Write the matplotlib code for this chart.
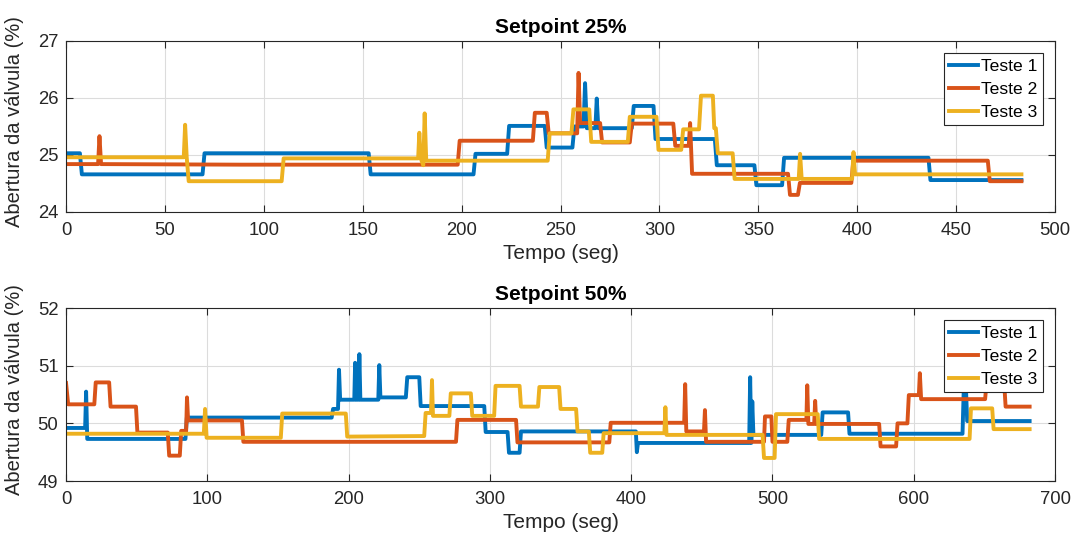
import matplotlib
matplotlib.use("Agg")
import matplotlib.pyplot as plt

# --- dados (tempo em s, abertura em %) ---
# Setpoint 25%
t1_25 = [0, 7, 8, 69, 70, 153, 154, 206, 207, 223, 224, 242, 243, 256, 257,
         261.6, 262.4, 263.3, 267.6, 268.3, 269.1, 286, 287, 297, 298, 328,
         329, 348, 349, 362, 363, 436, 437, 483]
v1_25 = [25.03, 25.03, 24.66, 24.66, 25.03, 25.03, 24.66, 24.66, 25.02, 25.02,
         25.51, 25.51, 25.13, 25.13, 25.5, 25.5, 26.26, 25.47, 25.47, 25.99,
         25.47, 25.47, 25.86, 25.86, 25.28, 25.28, 24.82, 24.82, 24.47, 24.47,
         24.95, 24.95, 24.56, 24.56]

t2_25 = [0, 16.2, 16.9, 17.7, 88, 198, 199, 236, 237, 243, 244, 258.4, 259.1,
         259.9, 270, 271, 285, 286, 307, 308, 314.8, 315.5, 316.5, 365, 366,
         370, 371, 397, 398, 466, 467, 483]
v2_25 = [24.84, 24.84, 25.33, 24.84, 24.83, 24.83, 25.25, 25.25, 25.74, 25.74,
         25.38, 25.38, 26.44, 25.56, 25.56, 25.22, 25.22, 25.55, 25.55, 25.16,
         25.16, 25.56, 24.67, 24.67, 24.3, 24.3, 24.51, 24.51, 24.9, 24.9,
         24.54, 24.54]

t3_25 = [0, 59.5, 60.2, 61, 62, 109, 110, 178, 178.6, 179.3, 180.6, 181.3,
         182.1, 243.5, 244.5, 255.5, 256.5, 264.5, 265.5, 284, 285, 298.5,
         299.5, 311, 312, 320, 321, 327, 327.7, 328.5, 329.5, 337, 338, 370.4,
         371.1, 371.9, 397.4, 398.1, 398.9, 483]
v3_25 = [24.96, 24.96, 25.53, 24.96, 24.54, 24.54, 24.94, 24.94, 25.39, 24.94,
         24.82, 25.73, 24.9, 24.9, 25.38, 25.38, 25.8, 25.8, 25.23, 25.23,
         25.67, 25.67, 25.09, 25.09, 25.45, 25.45, 26.04, 26.04, 25.47, 25.47,
         25.03, 25.03, 24.58, 24.58, 25.02, 24.58, 24.58, 25.05, 24.66, 24.66]

# Setpoint 50%
t1_50 = [0, 13.5, 14.2, 15, 84.5, 85.5, 188, 189, 192.5, 193.2, 194, 204,
         204.6, 205.3, 207, 207.6, 208.3, 221, 221.7, 222.5, 240.5, 241.5, 250,
         251, 296, 297, 312.5, 313.5, 321, 322, 403.3, 404, 404.8, 483.5, 484.2,
         485, 485.7, 486.5, 534.5, 535.5, 553.5, 554.5, 634.5, 635.5, 636.8,
         637.8, 682]
v1_50 = [49.92, 49.92, 50.55, 49.73, 49.73, 50.1, 50.1, 50.25, 50.25, 50.93,
         50.41, 50.41, 51.05, 50.41, 50.41, 51.2, 50.41, 50.41, 51.01, 50.45,
         50.45, 50.8, 50.8, 50.3, 50.3, 49.85, 49.85, 49.49, 49.49, 49.86, 49.86,
         49.5, 49.66, 49.66, 50.8, 49.66, 50.38, 49.8, 49.8, 50.19, 50.19, 49.82,
         49.82, 50.7, 50.7, 50.04, 50.04]

t2_50 = [0, 1.5, 20, 21, 30.5, 31.5, 49.5, 50.5, 72, 73, 80.5, 81.5, 85, 85.6,
         86.4, 124.5, 125.5, 276, 277, 318.5, 319.5, 384.5, 385.5, 437.5, 438.2,
         439, 451.5, 452.2, 453, 494, 494.7, 499.2, 500, 510.5, 511.5, 524,
         524.6, 525.4, 529.5, 530.2, 531, 575.5, 576.5, 587.5, 588.5, 595.5,
         596.5, 603.6, 604.3, 605.2, 650.5, 651.5, 664, 665, 682]
v2_50 = [50.7, 50.33, 50.33, 50.71, 50.71, 50.29, 50.29, 49.84, 49.84, 49.44,
         49.44, 49.87, 49.87, 50.45, 50.05, 50.05, 49.68, 49.68, 50.06, 50.06,
         49.67, 49.67, 50.01, 50.01, 50.68, 49.86, 49.86, 50.23, 49.68, 49.68,
         50.12, 50.12, 49.68, 49.68, 50.06, 50.06, 50.66, 49.99, 49.99, 50.39,
         49.99, 49.99, 49.6, 49.6, 50.0, 50.0, 50.49, 50.49, 50.87, 50.42,
         50.42, 50.7, 50.7, 50.29, 50.29]

t3_50 = [0, 97.5, 98.4, 99.5, 152, 153, 198, 199, 253.5, 254.5, 258.3, 259,
         259.7, 271.3, 272.3, 286.5, 287.5, 303, 304, 321, 322, 334, 335, 349,
         350, 361, 362, 370, 371, 379.5, 380.5, 423.5, 424.2, 425, 493, 494,
         501.5, 502.5, 532, 533, 639.5, 640.5, 655.5, 656.5, 682]
v3_50 = [49.82, 49.82, 50.25, 49.75, 49.75, 50.17, 50.17, 49.77, 49.78, 50.18,
         50.18, 50.75, 50.13, 50.13, 50.52, 50.52, 50.13, 50.13, 50.65, 50.65,
         50.29, 50.29, 50.63, 50.63, 50.25, 50.25, 49.86, 49.86, 49.49, 49.49,
         49.83, 49.83, 50.28, 49.8, 49.8, 49.4, 49.4, 50.16, 50.16, 49.73, 49.73,
         50.26, 50.26, 49.9, 49.9]

labels = ["Teste 1", "Teste 2", "Teste 3"]
cores = ["#0072BD", "#D95319", "#EDB120"]  # cores padrão do MATLAB

plt.rcParams["font.family"] = ["Liberation Sans", "DejaVu Sans"]

fig = plt.figure(figsize=(10.81, 5.42), dpi=100)
ax1 = fig.add_axes([0.0611, 0.6089, 0.9149, 0.3155])
ax2 = fig.add_axes([0.0611, 0.1125, 0.9149, 0.3192])

paineis = [
    (ax1, [(t1_25, v1_25), (t2_25, v2_25), (t3_25, v3_25)],
     "Setpoint 25%", (0, 500), (24, 27), range(0, 501, 50), range(24, 28)),
    (ax2, [(t1_50, v1_50), (t2_50, v2_50), (t3_50, v3_50)],
     "Setpoint 50%", (0, 700), (49, 52), range(0, 701, 100), range(49, 53)),
]

for ax, series, titulo, xl, yl, xt, yt in paineis:
    for (t, v), cor, lab in zip(series, cores, labels):
        ax.plot(t, v, color=cor, linewidth=2.8, label=lab,
                solid_joinstyle="round")
    ax.set_xlim(*xl)
    ax.set_ylim(*yl)
    ax.set_xticks(list(xt))
    ax.set_yticks(list(yt))
    ax.grid(True, color="#DCDCDC", linewidth=0.8)
    ax.set_axisbelow(True)
    ax.tick_params(direction="in", top=True, right=True, length=5,
                   width=0.8, labelsize=13.3, colors="#262626")
    ax.tick_params(axis="x", pad=7)
    ax.tick_params(axis="y", pad=5.5)
    for s in ax.spines.values():
        s.set_color("#262626")
        s.set_linewidth(0.8)
    ax.set_title(titulo, fontsize=15, fontweight="bold", pad=6)
    ax.set_xlabel("Tempo (seg)", fontsize=15, color="#262626", labelpad=4)
    ax.set_ylabel("Abertura da válvula (%)", fontsize=14.5, color="#262626")
    ax.yaxis.set_label_coords(-0.043, 0.53)
    leg = ax.legend(loc="upper right", fontsize=12.6, fancybox=False,
                    framealpha=1, edgecolor="#262626", borderaxespad=0.7,
                    handlelength=1.65, handletextpad=0.2, borderpad=0.3,
                    labelspacing=0.45)
    leg.get_frame().set_linewidth(0.8)

fig.savefig("out.png", dpi=100)
